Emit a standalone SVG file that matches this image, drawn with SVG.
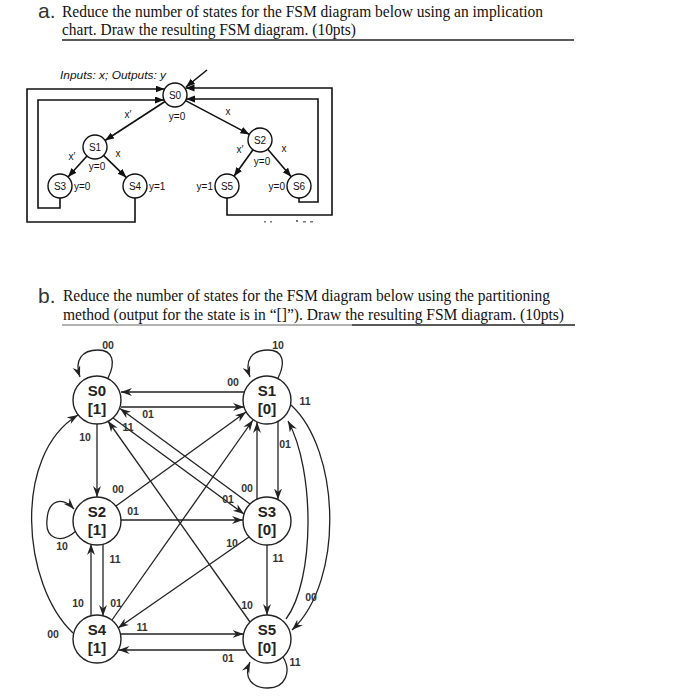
<svg xmlns="http://www.w3.org/2000/svg" width="700" height="697" viewBox="0 0 700 697">
<defs>
<marker id="arrA" markerUnits="userSpaceOnUse" markerWidth="10" markerHeight="8" refX="9" refY="3.5" orient="auto"><path d="M0,0 L9,3.5 L0,7 z" fill="#111"/></marker>
<marker id="arrB" markerUnits="userSpaceOnUse" markerWidth="12" markerHeight="9" refX="11" refY="4" orient="auto"><path d="M0,0 L11,4 L0,8 L3.5,4 z" fill="#222"/></marker>
<style>
.ttl{font-family:"Liberation Serif",serif;font-size:16px;fill:#111}
.big{font-family:"Liberation Sans",sans-serif;font-size:21px;fill:#333}
.na{fill:#fff;stroke:#111;stroke-width:1.4}
.ta{font-family:"Liberation Sans",sans-serif;font-size:10px;fill:#111;text-anchor:middle}
.tal{font-family:"Liberation Sans",sans-serif;font-size:10px;fill:#111}
.ea{fill:none;stroke:#111;stroke-width:1.6}
.nb{fill:#fff;stroke:#222;stroke-width:1.4}
.sb{font-family:"Liberation Sans",sans-serif;font-size:15px;font-weight:bold;fill:#222;text-anchor:middle}
.eb{fill:none;stroke:#222;stroke-width:1.3}
.lb{font-family:"Liberation Sans",sans-serif;font-size:10.5px;font-weight:bold;fill:#333;text-anchor:middle}
</style>
</defs>
<rect width="700" height="697" fill="#fff"/>

<!-- Titles -->
<text class="big" x="38" y="18">a.</text>
<text class="ttl" x="62" y="17" textLength="481" lengthAdjust="spacingAndGlyphs">Reduce the number of states for the FSM diagram below using an implication</text>
<text class="ttl" x="62" y="35" textLength="294" lengthAdjust="spacingAndGlyphs">chart. Draw the resulting FSM diagram. (10pts)</text>
<line x1="62" y1="40" x2="574" y2="40" stroke="#222" stroke-width="1.4"/>

<text class="big" x="38" y="303">b.</text>
<text class="ttl" x="63" y="301" textLength="487" lengthAdjust="spacingAndGlyphs">Reduce the number of states for the FSM diagram below using the partitioning</text>
<text class="ttl" x="63" y="320" textLength="501" lengthAdjust="spacingAndGlyphs">method (output for the state is in “[]”). Draw the resulting FSM diagram. (10pts)</text>
<line x1="62" y1="325" x2="352" y2="325" stroke="#999" stroke-width="1.3"/>
<line x1="352" y1="325" x2="575" y2="325" stroke="#222" stroke-width="1.4"/>

<!-- Part a -->
<text class="tal" x="60" y="79" font-style="italic" textLength="106" lengthAdjust="spacingAndGlyphs">Inputs: x; Outputs: y</text>
<g id="a-connectors">
<line class="ea" x1="207" y1="70" x2="186" y2="87" marker-end="url(#arrA)"/>
<line class="ea" x1="165" y1="101.5" x2="105" y2="140.5" marker-end="url(#arrA)"/>
<line class="ea" x1="87" y1="156" x2="68" y2="177" marker-end="url(#arrA)"/>
<line class="ea" x1="103.6" y1="155.4" x2="126.4" y2="177.6" marker-end="url(#arrA)"/>
<line class="ea" x1="185.6" y1="100.6" x2="249.4" y2="134.4" marker-end="url(#arrA)"/>
<line class="ea" x1="253" y1="149.7" x2="234" y2="176.3" marker-end="url(#arrA)"/>
<line class="ea" x1="267.8" y1="149.2" x2="291.2" y2="176.8" marker-end="url(#arrA)"/>
<polyline class="ea" points="60,198 60,208 38,208 38,100 164,100" marker-end="url(#arrA)"/>
<polyline class="ea" points="135,198 135,222 27,222 27,89 164.5,89" marker-end="url(#arrA)"/>
<polyline class="ea" points="299,198 299,202 318,202 318,99 186,99" marker-end="url(#arrA)"/>
<polyline class="ea" points="227,198 227,215 332,215 332,88 185.5,88" marker-end="url(#arrA)"/>
</g>
<text class="ta" x="128" y="118">x′</text>
<text class="ta" x="72" y="160">x′</text>
<text class="ta" x="118" y="157">x</text>
<text class="ta" x="228" y="115">x</text>
<text class="ta" x="240" y="153">x′</text>
<text class="ta" x="284" y="152">x</text>
<g id="a-S0"><circle class="na" cx="175" cy="95" r="12"/><text class="ta" x="175" y="99">S0</text><text class="ta" x="177" y="120">y=0</text></g>
<g id="a-S1"><circle class="na" cx="95" cy="147" r="12"/><text class="ta" x="95" y="151">S1</text><text class="ta" x="97" y="170">y=0</text></g>
<g id="a-S2"><circle class="na" cx="260" cy="140" r="12"/><text class="ta" x="260" y="144">S2</text><text class="ta" x="262" y="165">y=0</text></g>
<g id="a-S3"><circle class="na" cx="60" cy="186" r="12"/><text class="ta" x="60" y="190">S3</text><text class="tal" x="74" y="190">y=0</text></g>
<g id="a-S4"><circle class="na" cx="135" cy="186" r="12"/><text class="ta" x="135" y="190">S4</text><text class="tal" x="149" y="190">y=1</text></g>
<g id="a-S5"><circle class="na" cx="227" cy="186" r="12"/><text class="ta" x="227" y="190">S5</text><text class="tal" x="213" y="190" text-anchor="end">y=1</text></g>
<g id="a-S6"><circle class="na" cx="299" cy="186" r="12"/><text class="ta" x="299" y="190">S6</text><text class="tal" x="285" y="190" text-anchor="end">y=0</text></g>
<g fill="#777"><rect x="264" y="221" width="2" height="1.5"/><rect x="270" y="221" width="2" height="1.5"/><rect x="296" y="220" width="2" height="2"/><rect x="303" y="221" width="3" height="1.5"/><rect x="310" y="221" width="3" height="1.5"/></g>

<!-- Part b -->
<g id="b-connectors">
<path class="eb" d="M108,378 C116,362 113,350 98,350 C82,350 74,360 80,377" marker-end="url(#arrB)"/>
<path class="eb" d="M278,378 C286,362 283,350 268,350 C252,350 244,360 250,377" marker-end="url(#arrB)"/>
<line class="eb" x1="244" y1="392" x2="121" y2="392" marker-end="url(#arrB)"/>
<line class="eb" x1="121" y1="407" x2="244" y2="407" marker-end="url(#arrB)"/>
<line class="eb" x1="97" y1="424" x2="97" y2="497" marker-end="url(#arrB)"/>
<line class="eb" x1="113" y1="418" x2="244" y2="514" marker-end="url(#arrB)"/>
<line class="eb" x1="250" y1="504" x2="120" y2="408.5" marker-end="url(#arrB)"/>
<line class="eb" x1="250" y1="622" x2="108" y2="421" marker-end="url(#arrB)"/>
<line class="eb" x1="116" y1="506" x2="246" y2="412" marker-end="url(#arrB)"/>
<line class="eb" x1="112" y1="620" x2="253" y2="420" marker-end="url(#arrB)"/>
<line class="eb" x1="257" y1="499" x2="257" y2="422" marker-end="url(#arrB)"/>
<line class="eb" x1="278" y1="421.5" x2="278" y2="499.5" marker-end="url(#arrB)"/>
<line class="eb" x1="121" y1="520" x2="243" y2="520" marker-end="url(#arrB)"/>
<line class="eb" x1="249" y1="537" x2="118" y2="628" marker-end="url(#arrB)"/>
<line class="eb" x1="267" y1="545" x2="267" y2="615" marker-end="url(#arrB)"/>
<line class="eb" x1="103" y1="544" x2="103" y2="616" marker-end="url(#arrB)"/>
<line class="eb" x1="91" y1="616" x2="91" y2="544" marker-end="url(#arrB)"/>
<line class="eb" x1="120.5" y1="634" x2="243.5" y2="634" marker-end="url(#arrB)"/>
<line class="eb" x1="245.5" y1="650" x2="118.5" y2="650" marker-end="url(#arrB)"/>
<path class="eb" d="M73,633 C22,585 12,455 78,415" marker-end="url(#arrB)"/>
<path class="eb" d="M291,405 C340,450 345,580 292,630" marker-end="url(#arrB)"/>
<path class="eb" d="M286,619 C315,580 315,470 288,421" marker-end="url(#arrB)"/>
<path class="eb" d="M76,531 C60,545 45,538 47,520 C48,500 62,496 74,509" marker-end="url(#arrB)"/>
<path class="eb" d="M283,657 C292,672 285,688 268,688 C252,688 243,678 250,662" marker-end="url(#arrB)"/>
</g>
<g id="b-labels">
<text class="lb" x="108" y="349">00</text>
<text class="lb" x="278" y="349">10</text>
<text class="lb" x="233" y="386">00</text>
<text class="lb" x="148" y="418">01</text>
<text class="lb" x="128" y="431">11</text>
<text class="lb" x="85" y="441">10</text>
<text class="lb" x="305" y="405">11</text>
<text class="lb" x="285" y="448">01</text>
<text class="lb" x="118" y="493">00</text>
<text class="lb" x="133" y="515">01</text>
<text class="lb" x="247" y="492">00</text>
<text class="lb" x="228" y="503">01</text>
<text class="lb" x="232" y="547">10</text>
<text class="lb" x="62" y="550">10</text>
<text class="lb" x="115" y="563">11</text>
<text class="lb" x="278" y="562">11</text>
<text class="lb" x="311" y="601">00</text>
<text class="lb" x="78" y="607">10</text>
<text class="lb" x="116" y="607">01</text>
<text class="lb" x="247" y="609">10</text>
<text class="lb" x="53" y="638">00</text>
<text class="lb" x="142" y="631">11</text>
<text class="lb" x="228" y="662">01</text>
<text class="lb" x="295" y="666">11</text>
</g>
<g id="b-S0"><circle class="nb" cx="97" cy="400" r="24"/><text class="sb" x="97" y="396">S0</text><text class="sb" x="97" y="414">[1]</text></g>
<g id="b-S1"><circle class="nb" cx="267" cy="400" r="24"/><text class="sb" x="267" y="396">S1</text><text class="sb" x="267" y="414">[0]</text></g>
<g id="b-S2"><circle class="nb" cx="97" cy="521" r="24"/><text class="sb" x="97" y="517">S2</text><text class="sb" x="97" y="535">[1]</text></g>
<g id="b-S3"><circle class="nb" cx="267" cy="521" r="24"/><text class="sb" x="267" y="517">S3</text><text class="sb" x="267" y="535">[0]</text></g>
<g id="b-S4"><circle class="nb" cx="97" cy="639" r="24"/><text class="sb" x="97" y="635">S4</text><text class="sb" x="97" y="653">[1]</text></g>
<g id="b-S5"><circle class="nb" cx="267" cy="639" r="24"/><text class="sb" x="267" y="635">S5</text><text class="sb" x="267" y="653">[0]</text></g>
</svg>
